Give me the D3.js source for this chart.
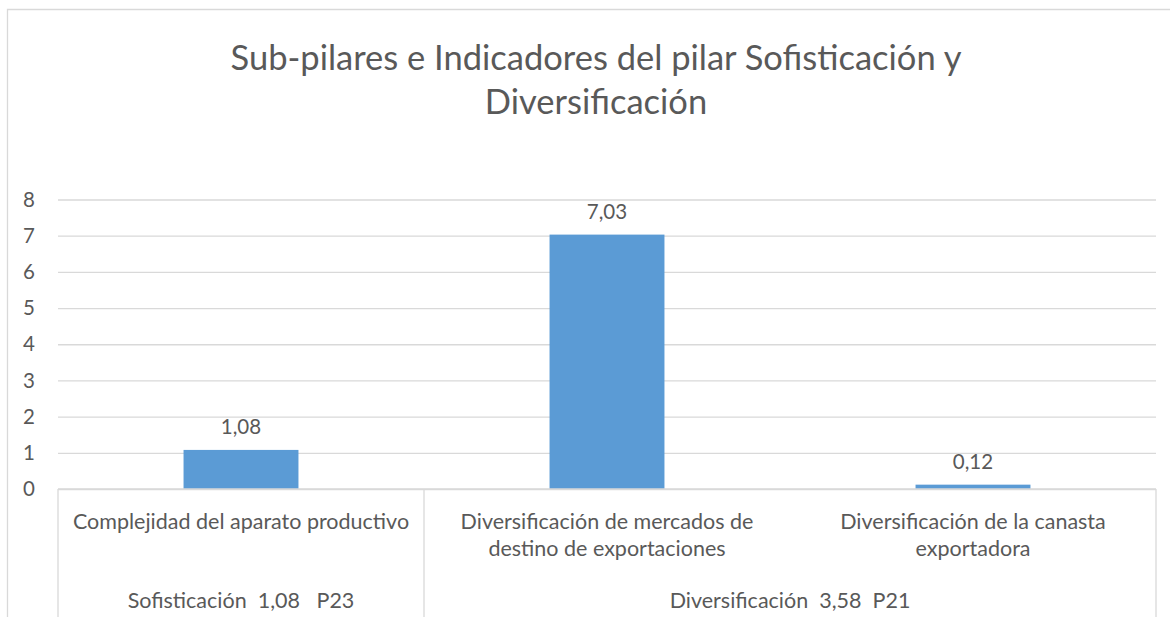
<!DOCTYPE html>
<html>
<head>
<meta charset="utf-8">
<script src="https://cdn.jsdelivr.net/npm/d3@7"></script>
<style>
  body { margin: 0; background: #fff; }
  text { font-family: Lato, "Open Sans", sans-serif; fill: #595959; }
  .grid line { stroke: #d9d9d9; stroke-width: 1.3; }
  .grid path { display: none; }
</style>
</head>
<body>
<div id="chart"></div>
<script>
// chart data
var categories = ["Complejidad del aparato productivo",
  "Diversificación de mercados de destino de exportaciones",
  "Diversificación de la canasta exportadora"];
var categoryLines = [
  ["Complejidad del aparato productivo"],
  ["Diversificación de mercados de", "destino de exportaciones"],
  ["Diversificación de la canasta", "exportadora"]
];
var values = [1.08, 7.03, 0.12];
var valueLabels = ["1,08", "7,03", "0,12"];
var groups = ["Sofisticación  1,08   P23", "Diversificación  3,58  P21"];
var groupSpan = [1, 2];
var yTicks = [0, 1, 2, 3, 4, 5, 6, 7, 8];

var svgWidth = 1170;
var svgHeight = 617;
var margin = { top: 199.5, right: 14, bottom: 128, left: 58 };
var width = svgWidth - margin.left - margin.right;
var height = svgHeight - margin.top - margin.bottom;

var svg = d3.select("#chart")
  .append("svg")
  .attr("width", svgWidth)
  .attr("height", svgHeight);

// outer frame (only top + left visible in the crop)
svg.append("path")
  .attr("d", "M7.5,617 V9.5 H1170")
  .attr("fill", "none")
  .attr("stroke", "#d9d9d9")
  .attr("stroke-width", 1.3);

svg.append("text")
  .attr("x", 596)
  .attr("y", 69.5)
  .attr("text-anchor", "middle")
  .style("font-size", "34.5px")
  .text("Sub-pilares e Indicadores del pilar Sofisticación y");
svg.append("text")
  .attr("x", 596)
  .attr("y", 113.5)
  .attr("text-anchor", "middle")
  .style("font-size", "34.5px")
  .text("Diversificación");

var chartGroup = svg.append("g")
  .attr("transform", `translate(${margin.left}, ${margin.top})`);

var x = d3.scaleBand()
  .domain(categories)
  .range([0, width])
  .paddingInner(0.686)
  .paddingOuter(0.343);

var y = d3.scaleLinear()
  .domain([0, 8])
  .range([height, 0]);

// gridlines
chartGroup.append("g")
  .attr("class", "grid")
  .call(d3.axisLeft(y).tickValues(yTicks).tickSize(-width).tickFormat(""));

// y labels
chartGroup.selectAll(".ylab")
  .data(yTicks)
  .enter()
  .append("text")
  .attr("x", -23)
  .attr("y", d => y(d))
  .attr("dy", "0.35em")
  .attr("text-anchor", "end")
  .style("font-size", "20.5px")
  .text(d => d);

// bars
chartGroup.selectAll(".bar")
  .data(values)
  .enter()
  .append("rect")
  .attr("x", (d, i) => x(categories[i]))
  .attr("y", d => y(d))
  .attr("width", x.bandwidth())
  .attr("height", d => height - y(d))
  .attr("fill", "#5b9bd5");

chartGroup.selectAll(".vlab")
  .data(values)
  .enter()
  .append("text")
  .attr("x", (d, i) => x(categories[i]) + x.bandwidth() / 2)
  .attr("y", d => y(d) - 16)
  .attr("text-anchor", "middle")
  .style("font-size", "20.5px")
  .text((d, i) => valueLabels[i]);

// category axis
var step = x.step();
chartGroup.append("line")
  .attr("x1", 0).attr("x2", width)
  .attr("y1", height).attr("y2", height)
  .attr("stroke", "#d9d9d9").attr("stroke-width", 1.3);

var bounds = [0];
groupSpan.forEach(function(s) { bounds.push(bounds[bounds.length - 1] + s); });
bounds.forEach(function(b) {
  chartGroup.append("line")
    .attr("x1", b * step).attr("x2", b * step)
    .attr("y1", height).attr("y2", svgHeight - margin.top)
    .attr("stroke", "#d9d9d9").attr("stroke-width", 1.3);
});

categoryLines.forEach(function(lines, i) {
  var t = chartGroup.append("text")
    .attr("text-anchor", "middle")
    .style("font-size", "21.5px");
  lines.forEach(function(l, j) {
    t.append("tspan")
      .attr("x", x(categories[i]) + x.bandwidth() / 2)
      .attr("y", height + 39.5 + j * 27)
      .text(l);
  });
});

groups.forEach(function(g, i) {
  chartGroup.append("text")
    .attr("x", (bounds[i] + bounds[i + 1]) / 2 * step)
    .attr("y", height + 119)
    .attr("text-anchor", "middle")
    .style("font-size", "21.5px")
    .style("white-space", "pre")
    .attr("xml:space", "preserve")
    .text(g);
});
</script>
</body>
</html>
